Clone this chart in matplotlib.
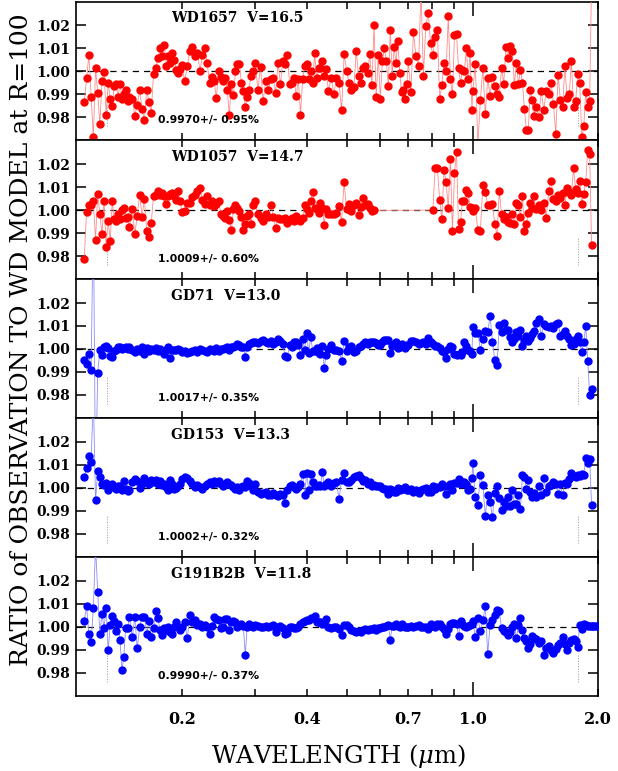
import numpy as np
import matplotlib
matplotlib.use("Agg")
import matplotlib.pyplot as plt
from matplotlib.ticker import FixedLocator, FixedFormatter, FuncFormatter

nan = float("nan")

# wavelength grid (micron), R=100 bins
wave = [
    0.1165, 0.1180, 0.1195, 0.1210, 0.1225, 0.1240, 0.1255, 0.1270, 0.1285, 0.1300, 0.1315, 0.1330,
    0.1345, 0.1360, 0.1375, 0.1390, 0.1405, 0.1420, 0.1435, 0.1450, 0.1465, 0.1480, 0.1495,
    0.1520, 0.1541, 0.1562, 0.1583, 0.1604, 0.1625, 0.1646, 0.1667, 0.1688, 0.1709, 0.1730, 0.1751,
    0.1772, 0.1793, 0.1814, 0.1835, 0.1856, 0.1877, 0.1898, 0.1919, 0.1940, 0.1961, 0.1982,
    0.200, 0.203, 0.206, 0.209, 0.212, 0.215, 0.218, 0.221, 0.224, 0.227, 0.230, 0.233, 0.236, 0.239,
    0.242, 0.245, 0.248, 0.251, 0.254, 0.257, 0.260, 0.263, 0.266, 0.269, 0.272, 0.275, 0.278, 0.281,
    0.284, 0.287, 0.290, 0.293, 0.296,
    0.3000, 0.3045, 0.3090, 0.3135, 0.3180, 0.3225, 0.3270, 0.3315, 0.3360, 0.3405, 0.3450, 0.3495,
    0.3540, 0.3585, 0.3630, 0.3675, 0.3720, 0.3765, 0.3810, 0.3855, 0.3900, 0.3945, 0.3990, 0.4035,
    0.4080, 0.4125, 0.4170, 0.4215, 0.4260, 0.4305, 0.4350, 0.4395, 0.4440,
    0.4500, 0.4568, 0.4636, 0.4704, 0.4772, 0.4840, 0.4908, 0.4976, 0.5044, 0.5112, 0.5180, 0.5248,
    0.5316, 0.5384, 0.5452, 0.5520, 0.5588, 0.5656, 0.5724, 0.5792, 0.5860, 0.5928, 0.5996, 0.6064,
    0.6132, 0.6200, 0.6268, 0.6336, 0.6404, 0.6472, 0.6540, 0.6608, 0.6676, 0.6744, 0.6812, 0.6880, 0.6948,
    0.7000, 0.7102, 0.7204, 0.7306, 0.7408, 0.7510, 0.7612, 0.7714, 0.7816, 0.7918, 0.8020, 0.8122,
    0.8224, 0.8326, 0.8428, 0.8530, 0.8632, 0.8734, 0.8836, 0.8938, 0.9040, 0.9142, 0.9244, 0.9346,
    0.9448, 0.9550, 0.9652, 0.9754, 0.9856, 0.9958,
    1.0000, 1.0144, 1.0288, 1.0432, 1.0576, 1.0720, 1.0864, 1.1008, 1.1152, 1.1296, 1.1440, 1.1584,
    1.1728, 1.1872, 1.2016, 1.2160, 1.2304, 1.2448, 1.2592, 1.2736, 1.2880, 1.3024, 1.3168, 1.3312,
    1.3456, 1.3600, 1.3744, 1.3888,
    1.4000, 1.4204, 1.4408, 1.4612, 1.4816, 1.5020, 1.5224, 1.5428, 1.5632, 1.5836, 1.6040, 1.6244,
    1.6448, 1.6652, 1.6856, 1.7060, 1.7264, 1.7468, 1.7672, 1.7876, 1.8080, 1.8284, 1.8488, 1.8692,
    1.8896, 1.9100, 1.9304, 1.9508, 1.9712, 1.9916,
]

# observation / model ratios on the grid above
wd1657 = [
    .9864, .9969, 1.0071, .9890, .9714, 1.0014, .9907, .9770, .9957, .9997, .9810, .9950,
    .9880, .9850, .9936, .9943, .9890, .9945, .9880, .9900, .9920, .9870, .9886,
    .9880, .9807, .9854, .9917, .9836, .9786, .9920, .9864, .9820, .9989, 1.0014, 1.0057,
    1.0100, 1.0064, 1.0114, 1.0021, 1.0064, 1.0036, 1.0079, 1.0050, 1.0007, .9993, 1.0010,
    1.0029, .9957, 1.0021, 1.0086, 1.0107, 1.0064, 1.0079, 1.0000, 1.0071, 1.0100, 1.0036, .9950,
    .9975, .9957, .9883, 1.0000, .9974, .9957, .9969, .9920, .9810, .9943, .9897, 1.0000,
    1.0030, 1.0030, .9950, .9914, .9843, .9889, .9920, .9979, 1.0000,
    1.0036, .9920, 1.0020, .9870, .9957, .9920, .9964, .9971, .9907, 1.0036, .9943, 1.0043,
    1.0030, 1.0069, .9943, .9950, .9969, .9893, .9964, .9810, .9964, 1.0021, 1.0030, .9964,
    1.0000, .9950, 1.0079, .9970, 1.0014, 1.0014, 1.0046, .9980, 1.0010,
    .9914, .9970, .9900, .9970, .9950, .9830, 1.0074, 1.0000, .9950, .9920, .9930, 1.0089,
    .9980, .9950, 1.0014, 1.0021, .9993, 1.0074, .9940, 1.0200, .9886, 1.0069, .9879, 1.0043,
    1.0100, 1.0043, .9936, 1.0179, .9980, 1.0104, 1.0036, 1.0131, .9993, .9911, .9917, .9879, .9946,
    1.0043, .9911, 1.0169, 1.0064, 1.0021, 1.0350, .9980, 1.0197, 1.0254, 1.0121, 1.0069, 1.0150,
    1.0179, .9879, .9940, 1.0036, 1.0000, 1.0240, .9964, .9900, 1.0157, 1.0160, 1.0014, .9950,
    1.0007, 1.0003, 1.0100, .9964, 1.0079, .9830,
    .9914, 1.0031, .9680, .9874, 1.0014, .9814, .9969, .9893, .9974, .9936, .9900, .9886,
    1.0014, .9946, 1.0107, 1.0057, 1.0111, 1.0086, .9940, 1.0036, .9943, 1.0007, .9950, .9836,
    .9743, .9743, .9920, .9874,
    .9807, .9843, .9803, .9914, .9831, .9914, .9900, .9950, .9857, .9726, .9983, .9874,
    .9846, 1.0021, .9883, .9900, 1.0046, .9846, .9870, .9986, .9950, .9714, .9760, .9911,
    .9843, .9870, 1.0400, nan, nan, nan,
]

wd1057 = [
    .9789, .9993, 1.0021, 1.0021, 1.0039, .9870, 1.0070, .9981, .9896, 1.0041, .9841, .9953,
    .9867, 1.0041, .9960, .9953, .9981, .9960, .9999, 1.0010, .9967, .9970, .9927,
    1.0003, .9896, .9976, 1.0067, .9970, 1.0050, .9910, .9884, .9946, 1.0060, 1.0064, 1.0081,
    1.0067, 1.0074, 1.0060, 1.0027, 1.0060, 1.0070, 1.0074, 1.0060, 1.0046, 1.0084, 1.0039,
    .9993, .9996, 1.0031, 1.0031, 1.0056, 1.0067, 1.0084, 1.0096, 1.0046, 1.0027, 1.0060, 1.0021,
    1.0039, 1.0017, 1.0027, 1.0039, .9984, .9974, .9967, .9996, .9956, .9913, 1.0003, 1.0024,
    1.0010, .9996, .9970, .9913, .9941, .9974, .9981, .9941, 1.0021,
    1.0039, .9981, .9967, .9953, .9981, .9970, 1.0024, .9970, .9924, .9967, .9960, .9960,
    .9967, .9946, .9956, .9967, .9953, .9974, .9960, .9953, .9967, 1.0021, 1.0003, .9989,
    1.0039, 1.0079, 1.0010, 1.0003, .9989, 1.0031, 1.0010, .9936, 1.0003,
    .9981, .9984, .9981, .9989, 1.0017, .9950, 1.0121, 1.0003, 1.0027, .9996, 1.0021, 1.0031,
    .9979, 1.0013, 1.0053, 1.0021, 1.0027, 1.0010, .9996, .9999, nan, nan, nan, nan,
    nan, nan, nan, nan, nan, nan, nan, nan, nan, nan, nan, nan, nan,
    nan, nan, nan, nan, nan, nan, nan, nan, nan, nan, 1.0000, 1.0184,
    1.0184, 1.0046, .9960, 1.0174, 1.0121, 1.0007, 1.0224, .9907, 1.0160, 1.0253, .9917, .9950,
    1.0041, 1.0039, 1.0089, 1.0074, 1.0013, 1.0010,
    .9996, 1.0010, .9913, .9910, 1.0107, 1.0079, 1.0021, 1.0021, 1.0027, .9941, .9889, 1.0084,
    .9981, .9960, .9970, .9950, .9946, .9984, .9941, 1.0031, 1.0024, .9970, 1.0060, .9907,
    .9939, .9989, 1.0031, 1.0010,
    1.0060, 1.0003, 1.0024, .9999, 1.0031, .9967, 1.0081, 1.0127, 1.0050, 1.0041, 1.0064, 1.0053,
    1.0074, 1.0021, 1.0096, 1.0079, 1.0067, 1.0181, 1.0093, 1.0074, 1.0127, 1.0027, 1.0070, 1.0124,
    1.0260, 1.0246, .9850, nan, nan, nan,
]

gd71 = [
    .9953, .9933, .9979, .9910, 1.0600, .9400, .9896, .9996, .9973, 1.0010, 1.0014, 1.0004,
    .9970, .9967, .9993, .9996, 1.0010, 1.0010, 1.0000, 1.0004, 1.0010, 1.0000, 1.0007,
    .9996, .9989, 1.0000, .9993, 1.0010, .9979, 1.0004, .9990, 1.0000, .9996, 1.0004, .9993,
    1.0000, .9993, .9979, .9996, 1.0007, .9961, .9996, .9996, .9996, 1.0000, .9996,
    .9986, .9993, .9981, .9989, .9993, .9996, .9989, 1.0000, .9996, .9993, .9986, 1.0000,
    .9996, .9993, 1.0004, .9990, 1.0000, 1.0000, 1.0004, 1.0007, .9996, 1.0010, 1.0010, 1.0014,
    1.0021, 1.0019, 1.0007, 1.0007, .9967, 1.0010, 1.0021, 1.0025, 1.0029,
    1.0031, 1.0024, 1.0036, 1.0039, 1.0029, 1.0024, 1.0033, 1.0021, 1.0029, 1.0043, 1.0033, 1.0021,
    .9971, .9964, 1.0019, 1.0010, 1.0029, 1.0029, 1.0019, .9974, 1.0043, .9997, 1.0071, .9983,
    1.0050, .9993, .9993, 1.0003, .9983, .9979, 1.0011, .9917, .9974,
    1.0000, 1.0017, .9997, .9997, .9993, .9946, 1.0036, .9993, 1.0007, 1.0011, .9989, .9993,
    1.0007, 1.0014, 1.0020, 1.0031, 1.0021, 1.0029, 1.0029, 1.0029, 1.0026, 1.0017, 1.0017, 1.0029,
    1.0040, 1.0040, 1.0040, .9983, 1.0014, 1.0020, 1.0029, 1.0003, 1.0010, 1.0021, 1.0014, 1.0003, 1.0017,
    1.0017, 1.0036, 1.0036, 1.0029, 1.0021, 1.0024, 1.0031, 1.0021, 1.0046, 1.0029, 1.0021, 1.0011,
    1.0011, 1.0003, .9993, .9989, .9960, 1.0000, 1.0014, 1.0007, .9979, .9974, .9979, .9974,
    .9985, 1.0029, 1.0014, .9997, .9990, .9979,
    1.0097, 1.0069, 1.0071, .9997, 1.0043, 1.0079, 1.0074, 1.0143, 1.0031, .9954, .9931, 1.0103,
    1.0074, 1.0114, 1.0083, 1.0083, 1.0050, 1.0031, 1.0043, 1.0074, 1.0057, 1.0083, 1.0014, 1.0036,
    1.0057, 1.0036, 1.0046, 1.0064,
    1.0079, 1.0114, 1.0131, 1.0057, 1.0107, 1.0100, 1.0097, 1.0100, 1.0093, 1.0107, 1.0111, 1.0057,
    1.0064, 1.0079, 1.0057, 1.0043, 1.0017, 1.0021, 1.0043, 1.0057, 1.0031, .9989, 1.0031, 1.0100,
    .9946, .9800, .9826, nan, nan, nan,
]

gd153 = [
    1.0049, 1.0086, 1.0139, 1.0114, 1.0400, .9946, 1.0074, 1.0049, 1.0017, 1.0014, 1.0020, .9989,
    1.0003, 1.0017, 1.0006, .9996, 1.0010, 1.0010, .9989, 1.0029, .9996, .9986, .9989,
    1.0024, 1.0039, 1.0031, 1.0000, 1.0017, 1.0043, 1.0020, 1.0017, 1.0034, 1.0024, 1.0034, 1.0017,
    1.0031, 1.0014, 1.0017, 1.0006, .9989, 1.0034, 1.0017, .9996, 1.0000, 1.0010, 1.0017,
    1.0039, 1.0046, 1.0043, 1.0031, 1.0017, 1.0006, 1.0014, 1.0003, .9996, 1.0010, 1.0017, 1.0024,
    1.0017, 1.0031, 1.0020, 1.0029, 1.0017, 1.0010, 1.0017, 1.0024, 1.0017, 1.0014, 1.0003, .9996,
    1.0003, .9989, 1.0003, 1.0010, 1.0003, 1.0031, 1.0020, 1.0010, .9991,
    1.0017, .9983, .9974, .9977, .9981, .9971, .9967, .9977, .9971, .9963, .9974, .9971,
    .9934, .9989, 1.0010, 1.0014, 1.0003, .9996, 1.0006, 1.0017, 1.0060, .9970, 1.0064, .9989,
    1.0060, 1.0024, 1.0007, 1.0007, 1.0013, 1.0007, 1.0070, 1.0007, 1.0017,
    1.0024, 1.0010, 1.0021, 1.0027, .9950, 1.0036, 1.0064, 1.0024, 1.0024, 1.0036, 1.0046, 1.0050,
    1.0056, 1.0041, 1.0031, 1.0036, 1.0017, 1.0024, 1.0007, 1.0013, 1.0010, 1.0007, 1.0007, .9999,
    .9993, .9993, .9974, .9996, .9989, .9981, .9981, .9999, .9989, .9993, .9993, 1.0003, .9989,
    .9989, .9996, .9981, .9989, .9979, .9989, .9996, .9999, .9984, .9981, 1.0007, .9996,
    1.0003, 1.0003, 1.0017, 1.0007, .9974, 1.0010, 1.0017, .9989, 1.0021, 1.0021, 1.0039, 1.0017,
    1.0024, 1.0024, 1.0017, .9989, .9996, 1.0041,
    1.0110, .9960, .9927, 1.0056, 1.0013, .9879, .9970, .9939, .9874, .9979, 1.0010, .9954,
    .9904, .9937, .9923, .9960, .9923, .9989, .9931, .9931, .9967, .9910, 1.0056, 1.0046,
    .9996, 1.0036, .9984, .9960,
    .9979, .9960, 1.0007, .9967, 1.0041, .9981, 1.0010, 1.0013, 1.0024, 1.0017, .9974, 1.0017,
    .9967, 1.0021, 1.0017, 1.0039, 1.0064, 1.0050, 1.0046, 1.0056, 1.0050, 1.0060, 1.0056, 1.0131,
    1.0110, 1.0127, .9924, nan, nan, nan,
]

g191b2b = [
    1.0026, 1.0090, .9970, .9933, 1.0080, 1.0350, 1.0152, .9970, 1.0054, .9996, 1.0080, .9897,
    1.0007, 1.0046, 1.0026, .9980, 1.0014, .9942, .9812, .9870, .9993, .9993, 1.0041,
    .9957, 1.0041, .9906, 1.0000, 1.0041, 1.0043, .9970, 1.0026, .9956, .9993, 1.0070, 1.0039,
    .9986, .9964, .9993, .9986, 1.0000, .9978, .9970, .9997, 1.0022, 1.0000, .9986,
    .9997, 1.0022, .9949, 1.0051, 1.0022, 1.0029, 1.0007, 1.0014, 1.0000, 1.0007, 1.0000, .9970,
    1.0003, 1.0043, 1.0035, 1.0029, .9993, 1.0000, 1.0032, 1.0035, .9986, 1.0022, 1.0025, 1.0022,
    1.0000, 1.0007, 1.0014, 1.0003, .9877, 1.0000, 1.0014, 1.0003, 1.0000,
    1.0007, 1.0003, 1.0000, .9997, 1.0003, 1.0000, 1.0003, 1.0007, .9978, .9997, 1.0003, .9993,
    .9970, .9971, .9997, 1.0000, .9993, .9993, .9997, 1.0014, 1.0020, 1.0026, 1.0031, 1.0031,
    1.0036, 1.0040, 1.0046, 1.0021, 1.0021, 1.0021, 1.0011, 1.0017, 1.0033,
    1.0000, .9993, .9997, .9997, .9990, .9964, 1.0007, 1.0007, .9997, .9986, .9980, .9976,
    .9983, .9976, .9985, .9989, .9986, .9989, .9989, .9993, .9986, .9996, .9996, .9997,
    1.0000, 1.0004, 1.0007, .9943, 1.0003, 1.0003, 1.0011, 1.0005, .9997, 1.0014, 1.0005, .9997, 1.0000,
    1.0000, 1.0003, 1.0000, 1.0003, 1.0007, .9997, 1.0000, 1.0000, .9989, 1.0011, 1.0003, .9997,
    1.0014, 1.0014, 1.0000, .9990, .9970, .9990, 1.0011, 1.0017, 1.0017, 1.0014, .9960, 1.0023,
    1.0014, 1.0005, .9997, 1.0003, 1.0007, 1.0014,
    1.0026, .9954, 1.0036, .9983, 1.0029, 1.0089, .9883, 1.0007, 1.0029, 1.0050, 1.0074, 1.0069,
    .9993, .9983, .9979, .9964, .9979, 1.0000, 1.0014, .9950, 1.0007, 1.0039, .9986, .9950,
    .9936, .9907, .9924, .9960,
    .9950, .9946, .9929, .9940, .9879, .9907, .9917, .9900, .9886, .9903, .9921, .9929,
    .9954, .9926, .9897, .9931, .9943, .9946, .9936, .9914, 1.0007, .9989, 1.0011, 1.0007,
    1.0005, 1.0003, 1.0003, 1.0003, 1.0003, 1.0003,
]

ratios = [wd1657, wd1057, gd71, gd153, g191b2b]
names = ["WD1657  V=16.5", "WD1057  V=14.7", "GD71  V=13.0", "GD153  V=13.3", "G191B2B  V=11.8"]
stats = ["0.9970+/- 0.95%", "1.0009+/- 0.60%", "1.0017+/- 0.35%", "1.0002+/- 0.32%", "0.9990+/- 0.37%"]
dot_colors = ["red", "red", "blue", "blue", "blue"]
line_colors = ["#ff8a8a", "#ff8a8a", "#8c8cff", "#8c8cff", "#8c8cff"]

# wavelength limits marked by dotted lines
limit_waves = [0.132, 1.793]
yticks = [0.98, 0.99, 1.00, 1.01, 1.02]
xminor = [0.2, 0.3, 0.4, 0.5, 0.6, 0.7, 0.8, 0.9, 2.0]
xlabels = {0.2: "0.2", 0.4: "0.4", 0.7: "0.7", 2.0: "2.0"}

plt.rcParams["font.family"] = "DejaVu Serif"
plt.rcParams["font.weight"] = "bold"
# keep the mu in the axis label upright weight, italic style
plt.rcParams["mathtext.fontset"] = "custom"
plt.rcParams["mathtext.rm"] = "DejaVu Serif:weight=normal"
plt.rcParams["mathtext.it"] = "DejaVu Serif:style=italic:weight=normal"

fig, axes = plt.subplots(5, 1, sharex=True, figsize=(6.18, 7.71), dpi=100,
                         gridspec_kw=dict(hspace=0))
fig.subplots_adjust(left=0.123, right=0.9676, top=0.998, bottom=0.0973)

x = np.array(wave)
for i, ax in enumerate(axes):
    y = np.array(ratios[i])
    m = np.isfinite(y)
    ax.axhline(1.0, color="k", lw=0.9, ls=(0, (5, 4)), zorder=1)
    for lw_ in limit_waves:
        ax.plot([lw_, lw_], [0.976, 0.988], color="#999999", lw=0.7, ls=":", zorder=1)
    ax.plot(x[m], y[m], "-o", color=line_colors[i], lw=0.6, ms=5,
            mfc=dot_colors[i], mec=dot_colors[i], zorder=3)

    ax.set_xscale("log")
    ax.set_xlim(0.1113, 2.0)
    ax.set_ylim(0.9699, 1.0303)
    ax.yaxis.set_major_locator(FixedLocator(yticks))
    ax.yaxis.set_major_formatter(FuncFormatter(lambda v, p: "%.2f" % v))
    ax.xaxis.set_major_locator(FixedLocator([1.0]))
    ax.xaxis.set_minor_locator(FixedLocator(xminor))
    ax.xaxis.set_major_formatter(FixedFormatter(["1.0"]))
    ax.xaxis.set_minor_formatter(FuncFormatter(
        lambda v, p: next((s for k, s in xlabels.items() if abs(v - k) < 1e-6), "")))

    ax.tick_params(axis="both", which="both", direction="in", top=True, right=True, width=1.1)
    ax.tick_params(axis="x", which="major", length=10, pad=11, labelsize=11.5)
    ax.tick_params(axis="x", which="minor", length=5, pad=11, labelsize=11.5)
    ax.tick_params(axis="y", which="major", length=7, pad=4, labelsize=10)
    if i < 4:
        ax.tick_params(axis="x", which="both", labelbottom=False)
    for s in ax.spines.values():
        s.set_linewidth(1.2)

    ax.text(0.182, 0.881, names[i], transform=ax.transAxes, fontsize=10,
            fontweight="bold", va="center", ha="left")
    ax.text(0.157, 0.147, stats[i], transform=ax.transAxes, fontsize=7.8,
            family="DejaVu Sans", fontweight="bold", va="center", ha="left")

fig.text(338 / 618, 1 - 756 / 771, r"WAVELENGTH ($\mu$m)", ha="center", va="center",
         fontsize=17.5, fontweight="normal")
fig.text(22 / 618, 1 - 340 / 771, "RATIO of OBSERVATION TO WD MODEL at R=100",
         rotation=90, ha="center", va="center", fontsize=18, fontweight="normal")

fig.savefig("out.png", dpi=100)
